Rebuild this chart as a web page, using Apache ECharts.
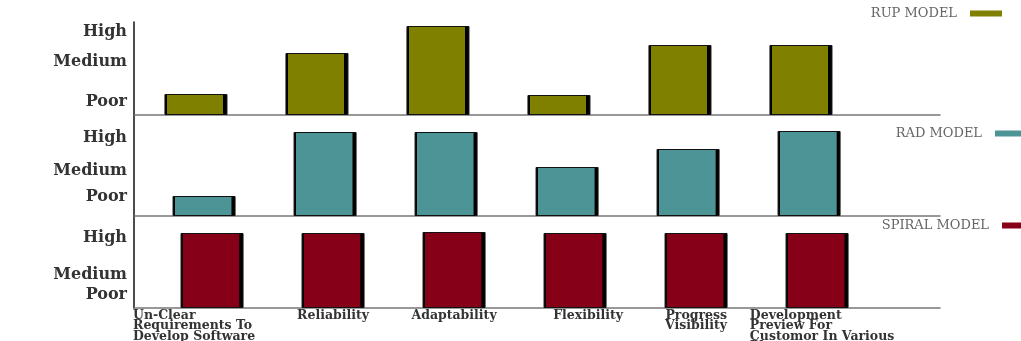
<!DOCTYPE html>
<html>
<head>
<meta charset="utf-8">
<script src="https://cdn.jsdelivr.net/npm/echarts@6/dist/echarts.min.js"></script>
<style>
html,body{margin:0;padding:0;background:#fff;}
#chart{width:1021px;height:341px;}
</style>
</head>
<body>
<div id="chart"></div>
<script>
// ---- data ----
const categories = [
  'Un-Clear\nRequirements To\nDevelop Software',
  'Reliability',
  'Adaptability',
  'Flexibility',
  'Progress\nVisibility',
  'Development\nPreview For\nCustomor In Various\nPhases'
];
const levelNames = ['Poor', 'Medium', 'High'];
const seriesNames = ['RUP MODEL', 'RAD MODEL', 'SPIRAL MODEL'];
// bar heights per panel (panel score units)
const rupValues    = [21, 62, 89, 20, 70, 70];
const radValues    = [20, 84, 84, 49, 67, 85];
const spiralValues = [75, 75, 76, 75, 75, 75];
// where the level tick labels sit on each panel's scale
const rupLevels    = [13, 53, 83];
const radLevels    = [19, 45, 78];
const spiralLevels = [13, 33, 70];
// panel scale maxima
const panelMax = [93, 101, 92];

// ---- layout / style ----
const colors = ['#7f7f00', '#4c9496', '#860018'];
const panels = [
  {top: 22,  height: 93,  xmin: -0.512, values: rupValues,    levels: rupLevels},
  {top: 115, height: 101, xmin: -0.579, values: radValues,    levels: radLevels},
  {top: 216, height: 92,  xmin: -0.645, values: spiralValues, levels: spiralLevels}
];
const span = 6.661;
const serifFont = 'DejaVu Serif';
// per-label line alignment and padding [top,right,bottom,left]
const labelAlign = ['left', 'center', 'center', 'center', 'right', 'left'];
const labelPad = [[0, 36, 0, 0], [0, 0, 0, 0], [0, 0, 0, 0], [0, 0, 0, 26], [0, 0, 0, 0], [0, 0, 0, 10]];

function barFill(c) {
  return new echarts.graphic.LinearGradient(0, 0, 1, 0, [
    {offset: 0, color: '#000'}, {offset: 0.045, color: '#000'},
    {offset: 0.046, color: c}, {offset: 0.935, color: c},
    {offset: 0.936, color: '#000'}, {offset: 1, color: '#000'}
  ]);
}

const xLabelText = {color: '#333', fontFamily: serifFont, fontSize: 12.5, lineHeight: 10.5, fontWeight: 'bold'};
const xRich = {};
categories.forEach((c, k) => {
  xRich['t' + k] = Object.assign({}, xLabelText, {align: labelAlign[k], padding: labelPad[k]});
});

const grid = [], xAxis = [], yAxis = [], series = [];
panels.forEach((p, i) => {
  grid.push({left: 134, width: 806, top: p.top, height: p.height, outerBoundsMode: 'none'});
  const isLast = i === panels.length - 1;
  xAxis.push({
    type: 'value', gridIndex: i, min: p.xmin, max: p.xmin + span,
    axisLine: {show: true, onZero: false, lineStyle: {color: '#777', width: 1.5}},
    axisTick: {show: false}, splitLine: {show: false},
    axisLabel: Object.assign({
      show: isLast, customValues: [0, 1, 2, 3, 4, 5], margin: 2, hideOverlap: false,
      showMaxLabel: true,
      formatter: v => {
        const k = Math.round(v);
        return categories[k].split('\n').map(s => '{t' + k + '|' + s + '}').join('\n');
      },
      rich: xRich
    }, xLabelText)
  });
  yAxis.push({
    type: 'value', gridIndex: i, min: 0, max: panelMax[i],
    axisLine: {show: true, onZero: false, lineStyle: {color: '#111', width: 1.5}},
    axisTick: {show: false}, splitLine: {show: false},
    axisLabel: {
      customValues: p.levels, margin: 7,
      formatter: v => levelNames[p.levels.indexOf(v)] || '',
      color: '#333', fontFamily: serifFont, fontSize: 16, fontWeight: 'bold'
    }
  });
  series.push({
    name: seriesNames[i], type: 'bar', xAxisIndex: i, yAxisIndex: i,
    barWidth: 63, silent: true,
    data: p.values.map((v, k) => [k, v]),
    color: colors[i],
    itemStyle: {color: barFill(colors[i]), borderColor: '#111', borderWidth: 1}
  });
});

const legendBase = {
  orient: 'horizontal', align: 'right', icon: 'rect',
  itemWidth: 32, itemHeight: 6,
  textStyle: {color: '#666', fontFamily: serifFont, fontSize: 13, padding: [0, 8, 0, 0]},
  selectedMode: false
};
const legend = seriesNames.map((n, i) => Object.assign({}, legendBase, {
  data: [{name: n, itemStyle: {color: colors[i], borderWidth: 0}}],
  right: [14, -11, -18][i], top: [2, 122, 214][i]
}));

const chart = echarts.init(document.getElementById('chart'), null, {renderer: 'canvas'});
chart.setOption({
  animation: false,
  backgroundColor: '#fff',
  grid, xAxis, yAxis, series, legend
});
</script>
</body>
</html>
